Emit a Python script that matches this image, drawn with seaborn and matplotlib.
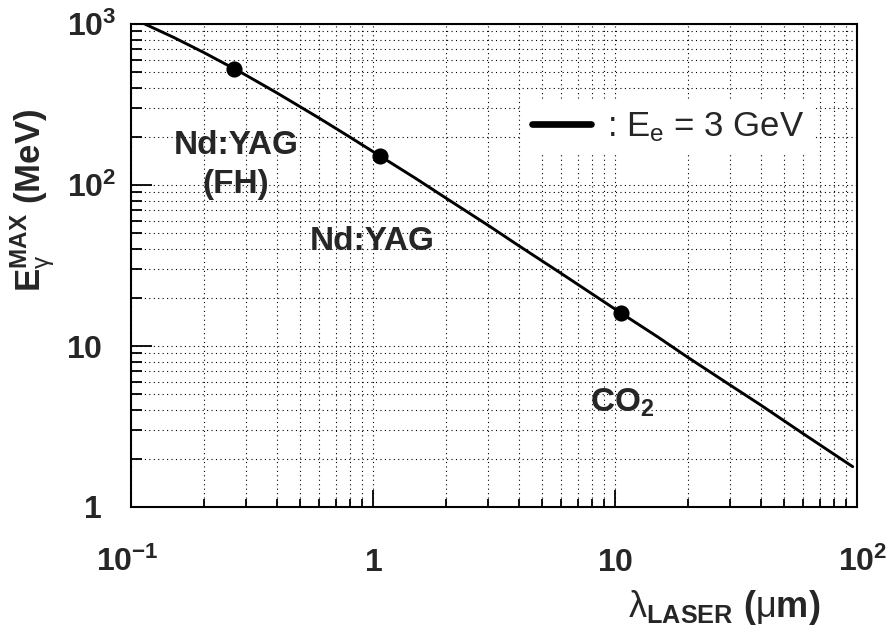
import matplotlib
matplotlib.use("Agg")
import matplotlib.pyplot as plt
import matplotlib.transforms as mtransforms
from matplotlib.lines import Line2D
from matplotlib.ticker import FixedLocator, FixedFormatter, LogLocator, NullFormatter
import seaborn as sns

# Maximum Compton-scattered photon energy for a 3 GeV electron beam
wavelength_um = [0.1, 0.114, 0.15, 0.2, 0.266, 0.3, 0.4, 0.6, 0.8, 1.064, 1.5,
                 2.0, 3.0, 4.0, 6.0, 10.6, 15.0, 20.0, 30.0, 40.0, 60.0, 96.0]
edge_energy_mev = [1090, 1000, 826, 665, 529, 479, 374, 260, 199, 152, 110,
                   83, 56, 42, 28.2, 16.0, 11.4, 8.5, 5.7, 4.3, 2.85, 1.78]

# Common laser lines
laser_wavelength_um = [0.266, 1.064, 10.6]
laser_edge_mev = [529, 152, 16.0]

x_ticks = [0.1, 1, 10, 100]
x_tick_labels = [r"$\mathbf{10^{-1}}$", r"$\mathbf{1}$", r"$\mathbf{10}$", r"$\mathbf{10^{2}}$"]
y_ticks = [1, 10, 100, 1000]
y_tick_labels = [r"$\mathbf{1}$", r"$\mathbf{10}$", r"$\mathbf{10^{2}}$", r"$\mathbf{10^{3}}$"]

sns.set_style("ticks")
plt.rcParams.update({
    "font.family": ["Liberation Sans", "DejaVu Sans"],
    "mathtext.fontset": "custom",
    "mathtext.rm": "Liberation Sans",
    "mathtext.it": "Liberation Sans:italic",
    "mathtext.bf": "Liberation Sans:bold",
    "mathtext.sf": "Liberation Sans",
    "axes.edgecolor": "black",
    "axes.linewidth": 1.5,
})

fig = plt.figure(figsize=(8.9, 6.34), dpi=100)
ax = fig.add_axes([131 / 890, 127 / 634, 726 / 890, 483 / 634])
ax.set_xscale("log")
ax.set_yscale("log")

sns.lineplot(x=wavelength_um, y=edge_energy_mev, ax=ax, color="black",
             linewidth=2.1, sort=False, estimator=None, legend=False, zorder=4)
sns.scatterplot(x=laser_wavelength_um, y=laser_edge_mev, ax=ax, s=135,
                color="black", edgecolor="black", linewidth=0, legend=False, zorder=5)

ax.set_xlim(0.1, 100)
ax.set_ylim(1, 1000)

ax.xaxis.set_major_locator(FixedLocator(x_ticks))
ax.xaxis.set_major_formatter(FixedFormatter(x_tick_labels))
ax.yaxis.set_major_locator(FixedLocator(y_ticks))
ax.yaxis.set_major_formatter(FixedFormatter(y_tick_labels))
ax.xaxis.set_minor_locator(LogLocator(base=10, subs=range(2, 10), numticks=20))
ax.yaxis.set_minor_locator(LogLocator(base=10, subs=range(2, 10), numticks=20))
ax.xaxis.set_minor_formatter(NullFormatter())
ax.yaxis.set_minor_formatter(NullFormatter())

ax.grid(True, which="both", color="black", linestyle=(0, (1, 3)), linewidth=0.8)
ax.set_axisbelow(True)

ax.tick_params(which="both", direction="in", top=False, right=False,
               color="black", width=1.3, labelsize=23)
ax.tick_params(axis="x", which="major", length=12, pad=46)
ax.tick_params(axis="x", which="minor", length=6)
ax.tick_params(axis="y", which="major", length=15, pad=21)
ax.tick_params(axis="y", which="minor", length=8)
for lab in ax.get_xticklabels():
    lab.set_verticalalignment("baseline")

# shift labels carrying an exponent so the mantissas line up
def shift(label, dx_px):
    label.set_transform(label.get_transform() +
                        mtransforms.ScaledTranslation(dx_px / 100, 0, fig.dpi_scale_trans))

xl = ax.get_xticklabels()
shift(xl[0], -4)
shift(xl[3], 6)
yl = ax.get_yticklabels()
shift(yl[2], 15)
shift(yl[3], 15)

for sp in ax.spines.values():
    sp.set_visible(True)
    sp.set_color("black")
    sp.set_linewidth(1.5)

# laser labels
ax.text(0.272, 155.8, "Nd:YAG", ha="center", va="baseline", fontsize=24, fontweight="bold")
ax.text(0.272, 89.1, "(FH)", ha="center", va="baseline", fontsize=24, fontweight="bold")
ax.text(0.99, 39.5, "Nd:YAG", ha="center", va="baseline", fontsize=24, fontweight="bold")
ax.text(7.89, 3.91, r"CO$_\mathbf{2}$", ha="left", va="baseline", fontsize=24, fontweight="bold")

handle = Line2D([], [], color="black", linewidth=4.8)
ax.legend(handles=[handle], labels=[r": E$_\mathrm{e}$ = 3 GeV"], loc="center",
          bbox_to_anchor=(0.74, 0.786), frameon=True, facecolor="white",
          edgecolor="none", framealpha=1, fancybox=False, fontsize=25,
          handlelength=1.7, handletextpad=0.45, borderpad=0.3, borderaxespad=0)

fig.text(33 / 890, 1 - 200 / 634, r"$\mathbf{E}_{\mathrm{\gamma}}^{\mathbf{MAX}}$ (MeV)",
         rotation=90, ha="center", va="center", fontsize=25, fontweight="bold")
fig.text(820 / 890, 1 - 617 / 634, r"$\mathrm{\lambda}_{\mathbf{LASER}}$ ($\mathrm{\mu}$m)",
         ha="right", va="baseline", fontsize=26, fontweight="bold")

fig.savefig("out.png", dpi=100, facecolor="white")
